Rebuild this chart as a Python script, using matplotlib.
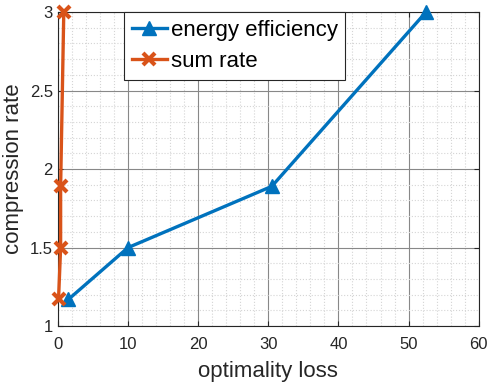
import matplotlib.pyplot as plt
from matplotlib.ticker import MultipleLocator

plt.rcParams['font.family'] = ['Liberation Sans', 'DejaVu Sans']

ee_loss = [1.5, 10, 30.5, 52.5]
ee_rate = [1.17, 1.5, 1.89, 3.0]
sr_loss = [0.1, 0.4, 0.4, 0.85]
sr_rate = [1.17, 1.5, 1.89, 3.0]

fig = plt.figure(figsize=(4.9, 3.86), dpi=100)
ax = fig.add_axes([0.118, 0.155, 0.859, 0.814])

ax.plot(ee_loss, ee_rate, color='#0072BD', marker='^', lw=2.4, ms=10,
        label='energy efficiency', clip_on=False, zorder=3)
ax.plot(sr_loss, sr_rate, color='#D95319', marker='x', lw=2.4, ms=8, mew=3,
        label='sum rate', clip_on=False, zorder=3)

ax.set_xlim(0, 60)
ax.set_ylim(1, 3)
ax.set_xticks(range(0, 61, 10))
ax.set_yticks([1, 1.5, 2, 2.5, 3])
ax.set_yticklabels(['1', '1.5', '2', '2.5', '3'])
ax.xaxis.set_minor_locator(MultipleLocator(2))
ax.yaxis.set_minor_locator(MultipleLocator(0.1))
ax.grid(which='major', color='#888888', lw=0.8)
ax.grid(which='minor', color='#d5d5d5', ls=':', lw=0.8)
ax.tick_params(which='both', direction='in', labelsize=12, top=True, right=True,
               colors='#262626')
ax.tick_params(axis='x', pad=8)
ax.tick_params(which='minor', length=0)
ax.set_xlabel('optimality loss', fontsize=16, color='#262626', labelpad=6)
ax.set_ylabel('compression rate', fontsize=16, color='#262626')
for s in ax.spines.values():
    s.set_color('#262626')

leg = ax.legend(loc='upper left', bbox_to_anchor=(0.157, 1.0), fontsize=16,
                frameon=True, fancybox=False, edgecolor='#262626', framealpha=1,
                handlelength=1.6, borderpad=0.35, labelspacing=0.45,
                handletextpad=0.15, borderaxespad=0.0)
leg.get_frame().set_linewidth(0.8)

fig.savefig('out.png', dpi=100)
